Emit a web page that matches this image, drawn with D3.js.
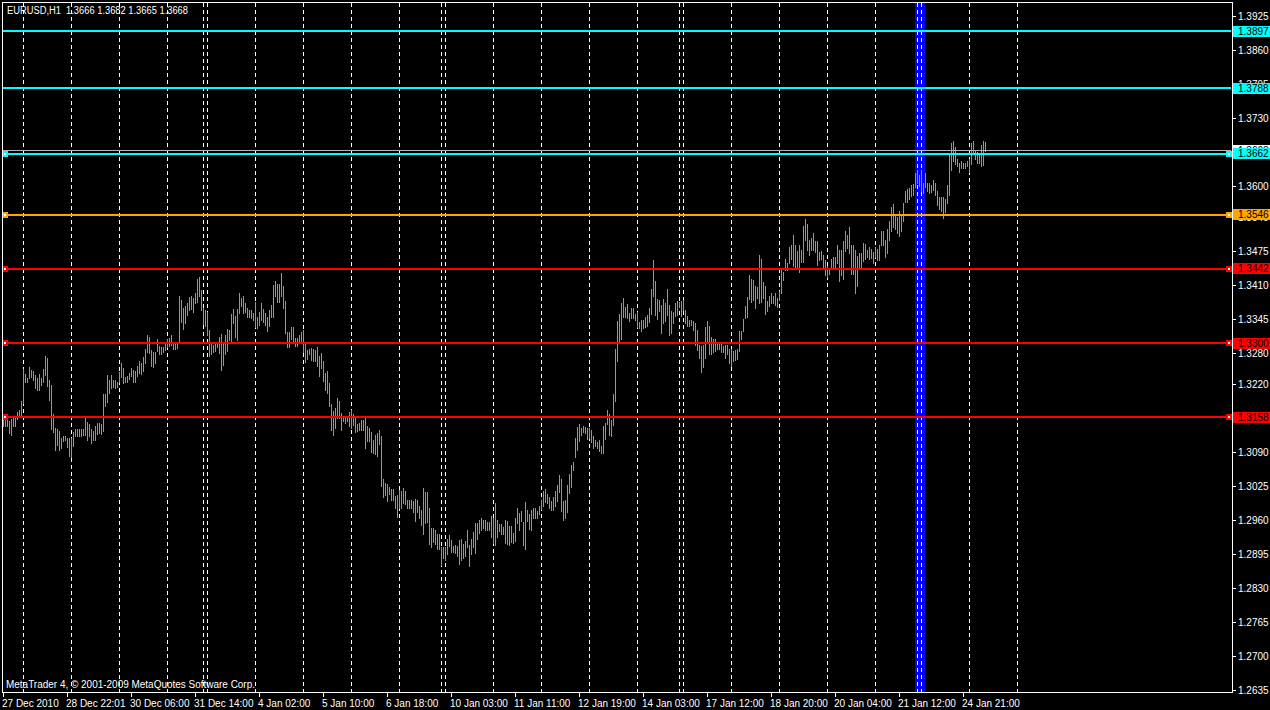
<!DOCTYPE html>
<html><head><meta charset="utf-8">
<script src="https://cdn.jsdelivr.net/npm/d3@7"></script>
<style>html,body{margin:0;padding:0;background:#000;overflow:hidden}svg{display:block}</style>
</head><body><svg id="c" width="1270" height="710"></svg>
<script>
// ---------------- DATA ----------------
const symbolTitle = "EURUSD,H1";
const lastOHLC = [1.3666, 1.3682, 1.3665, 1.3668];
const copyrightText = "MetaTrader 4, \u00a9 2001-2009 MetaQuotes Software Corp.";
// hourly bar highs / lows, price x 10000 (bar 0 = 27 Dec 2010 14:00)
const highPips = [
13153,13153,13152,13148,13153,13154,13154,13167,13170,13188,
13249,13239,13231,13253,13246,13244,13236,13231,13239,13232,
13249,13274,13270,13228,13217,13163,13136,13134,13130,13117,
13121,13121,13117,13116,13116,13128,13133,13133,13133,13133,
13133,13156,13147,13144,13133,13130,13140,13145,13145,13144,
13200,13200,13237,13227,13236,13228,13228,13224,13242,13259,
13250,13233,13235,13240,13250,13246,13245,13254,13264,13259,
13272,13287,13314,13310,13284,13281,13281,13305,13292,13291,
13290,13298,13306,13307,13314,13300,13298,13300,13388,13380,
13365,13369,13374,13387,13389,13384,13394,13421,13424,13399,
13365,13362,13358,13324,13297,13295,13296,13298,13310,13316,
13298,13314,13325,13324,13353,13364,13350,13364,13394,13385,
13389,13375,13365,13361,13361,13356,13376,13348,13357,13375,
13364,13356,13347,13362,13370,13410,13416,13412,13412,13432,
13407,13379,13320,13319,13329,13329,13307,13307,13313,13320,
13324,13297,13284,13287,13288,13286,13284,13290,13274,13279,
13263,13241,13244,13222,13181,13168,13173,13192,13187,13164,
13158,13157,13159,13166,13169,13163,13155,13144,13146,13150,
13150,13155,13139,13136,13127,13112,13123,13125,13131,13120,
13037,13030,13029,13023,13018,13018,13005,13007,13016,13015,
13021,13014,12998,12997,12998,12995,13000,12997,12987,12979,
13020,13013,13013,12983,12944,12944,12940,12932,12933,12908,
12907,12908,12924,12930,12922,12910,12912,12910,12921,12924,
12914,12919,12940,12912,12924,12937,12954,12953,12960,12964,
12960,12959,12956,12955,12967,12964,12992,12960,12951,12951,
12946,12960,12958,12947,12947,12935,12963,12982,12972,12977,
12955,12993,12979,12970,12978,12982,12983,12977,12987,12997,
13014,13018,13009,13004,12995,13004,13015,13027,13046,13037,
12996,12998,13027,13048,13065,13070,13116,13138,13144,13135,
13139,13138,13136,13136,13132,13121,13112,13109,13113,13102,
13140,13145,13169,13163,13150,13200,13287,13340,13353,13374,
13384,13368,13372,13356,13365,13365,13354,13357,13338,13343,
13342,13347,13352,13365,13402,13457,13417,13383,13380,13370,
13383,13374,13402,13370,13359,13357,13374,13378,13377,13379,
13380,13362,13350,13343,13343,13340,13336,13324,13295,13292,
13295,13328,13341,13331,13309,13306,13305,13296,13297,13297,
13292,13295,13295,13286,13286,13283,13285,13286,13322,13322,
13345,13369,13387,13429,13421,13419,13407,13406,13466,13458,
13415,13407,13378,13388,13394,13389,13394,13385,13398,13440,
13434,13458,13452,13481,13486,13505,13485,13475,13486,13476,
13523,13536,13525,13496,13500,13508,13493,13493,13473,13475,
13466,13457,13445,13440,13459,13463,13462,13486,13476,13477,
13493,13512,13505,13521,13486,13485,13476,13465,13471,13471,
13489,13488,13477,13482,13479,13472,13481,13479,13486,13512,
13512,13496,13516,13531,13559,13565,13546,13540,13550,13542,
13567,13590,13592,13595,13600,13602,13623,13629,13619,13629,
13605,13624,13605,13605,13600,13611,13604,13590,13577,13577,
13577,13573,13601,13659,13681,13684,13673,13651,13642,13646,
13643,13643,13647,13651,13681,13684,13666,13664,13659,13678,
13685,13682];
const lowPips = [
13139,13139,13139,13126,13123,13139,13139,13152,13159,13161,
13184,13223,13223,13231,13233,13227,13212,13209,13208,13217,
13224,13237,13216,13190,13133,13127,13093,13103,13094,13098,
13111,13112,13099,13082,13080,13101,13121,13121,13121,13120,
13122,13122,13112,13120,13106,13113,13113,13124,13125,13124,
13129,13177,13186,13202,13212,13214,13213,13214,13223,13233,
13222,13224,13224,13230,13235,13223,13223,13235,13241,13239,
13245,13260,13281,13279,13254,13253,13260,13282,13277,13278,
13281,13284,13291,13293,13295,13287,13287,13288,13301,13339,
13325,13337,13351,13362,13364,13358,13375,13376,13388,13362,
13335,13330,13313,13273,13277,13281,13282,13291,13279,13247,
13256,13278,13282,13304,13302,13337,13309,13304,13356,13369,
13356,13357,13348,13347,13346,13342,13328,13327,13333,13343,
13338,13333,13321,13330,13347,13347,13388,13376,13376,13388,
13365,13318,13290,13290,13305,13300,13292,13293,13298,13301,
13281,13261,13267,13277,13265,13263,13263,13255,13235,13251,
13226,13209,13203,13177,13131,13123,13136,13155,13155,13131,
13149,13145,13149,13139,13136,13141,13127,13130,13131,13132,
13132,13097,13111,13111,13089,13088,13085,13081,13104,13024,
13004,13007,12996,13009,12997,12998,12982,12965,12982,12982,
12992,12990,12983,12982,12983,12974,12958,12974,12964,12950,
12932,12954,12955,12913,12907,12918,12914,12903,12904,12873,
12886,12882,12894,12909,12898,12898,12896,12891,12875,12882,
12886,12890,12907,12871,12894,12907,12896,12923,12935,12941,
12944,12940,12940,12940,12926,12916,12912,12926,12938,12933,
12933,12916,12913,12912,12918,12916,12919,12953,12940,12958,
12912,12904,12958,12942,12941,12963,12964,12963,12970,12981,
12987,12993,12992,12983,12978,12979,12986,12996,13013,12977,
12959,12964,12975,13011,13023,13055,13080,13093,13111,13123,
13127,13125,13115,13117,13108,13098,13101,13097,13092,13088,
13088,13115,13143,13123,13121,13141,13187,13264,13302,13305,
13347,13347,13346,13340,13346,13346,13343,13328,13326,13321,
13326,13329,13331,13338,13353,13388,13352,13344,13360,13317,
13336,13340,13351,13313,13318,13337,13350,13352,13368,13350,
13362,13336,13331,13331,13332,13324,13294,13285,13269,13243,
13253,13269,13299,13278,13277,13281,13282,13286,13287,13281,
13281,13269,13277,13260,13255,13264,13266,13267,13283,13305,
13322,13346,13347,13383,13377,13380,13366,13385,13375,13377,
13385,13354,13360,13369,13375,13375,13371,13368,13380,13394,
13419,13438,13437,13452,13458,13445,13443,13444,13434,13454,
13454,13495,13477,13466,13477,13476,13473,13447,13457,13458,
13442,13429,13425,13430,13439,13442,13442,13451,13416,13429,
13420,13475,13480,13471,13430,13430,13394,13408,13443,13443,
13456,13459,13463,13459,13461,13452,13462,13457,13457,13486,
13486,13462,13471,13495,13512,13521,13516,13509,13503,13512,
13531,13568,13568,13573,13579,13582,13596,13604,13599,13590,
13585,13597,13590,13585,13588,13591,13581,13563,13554,13551,
13537,13549,13567,13581,13629,13646,13641,13637,13625,13633,
13633,13634,13637,13625,13641,13659,13650,13643,13643,13637,
13639,13665];
const timeLabels = ["27 Dec 2010","28 Dec 22:01","30 Dec 06:00","31 Dec 14:00","4 Jan 02:00",
  "5 Jan 10:00","6 Jan 18:00","10 Jan 03:00","11 Jan 11:00","12 Jan 19:00","14 Jan 03:00",
  "17 Jan 12:00","18 Jan 20:00","20 Jan 04:00","21 Jan 12:00","24 Jan 21:00"];
const timeLabelBars = [0,32,64,96,128,160,192,224,256,288,320,352,384,416,448,480];
const daySeparatorBars = [10,34,58,82,100,102,126,150,174,198,219,221,245,269,293,317,338,340,
  364,388,412,436,457,459,483,507];
const priceTickLabels = ["1.3925","1.3860","1.3795","1.3730","1.3665","1.3600","1.3540","1.3475",
  "1.3410","1.3345","1.3280","1.3220","1.3155","1.3090","1.3025","1.2960","1.2895","1.2830",
  "1.2765","1.2700","1.2635"];
const levelPrices = [1.3897, 1.3788, 1.3662, 1.3546, 1.3442, 1.3300, 1.3158];
const levelKinds  = ["cyan","cyan","cyan","orange","red","red","red"];
const levelSelected = [false, false, true, true, true, true, true];
const bidPrice = 1.3668;
const markerBar = 458;

// ---------------- STYLE ----------------
const COLORS = {cyan:"#00ffff", orange:"#ffa500", red:"#ff0000"};
const FONT = "'Liberation Sans', Arial, sans-serif";

const svg = d3.select("#c");
svg.append("rect").attr("width",1270).attr("height",710).attr("fill","#000");

const x = d3.scaleLinear().domain([0, 614]).range([3, 1231]);
const y = d3.scaleLinear().domain([1.2635, 1.3925]).range([690, 16]);
const bars = highPips.map((h,i)=>({i, h:h/10000, l:lowPips[i]/10000}));

// blue vertical marker
svg.append("rect").attr("x", Math.round(x(markerBar)) - 4).attr("y",3)
  .attr("width",10).attr("height",689).attr("fill","#0000ff");

// day separators (grid)
svg.append("g").selectAll("line").data(daySeparatorBars).join("line")
  .attr("x1",d=>x(d)+0.5).attr("x2",d=>x(d)+0.5).attr("y1",3).attr("y2",692)
  .attr("stroke","#fff").attr("stroke-width",1).attr("stroke-dasharray","4,3")
  .attr("shape-rendering","crispEdges");

// bars
svg.append("g").attr("shape-rendering","crispEdges").selectAll("rect").data(bars).join("rect")
  .attr("x",d=>x(d.i)).attr("width",1)
  .attr("y",d=>Math.floor(y(d.h)))
  .attr("height",d=>Math.max(1, Math.floor(y(d.l)) - Math.floor(y(d.h)) + 1))
  .attr("fill","#00ff00");

// bid line
svg.append("rect").attr("x",3).attr("width",1228).attr("y",Math.floor(y(bidPrice))).attr("height",1)
  .attr("fill","#b4b4b4");

// level lines
const levels = levelPrices.map((p,k)=>({p, c:COLORS[levelKinds[k]], sel:levelSelected[k]}));
const lg = svg.append("g").attr("shape-rendering","crispEdges");
lg.selectAll("rect.l").data(levels).join("rect").attr("class","l")
  .attr("x",3).attr("width",1228).attr("y",d=>Math.floor(y(d.p))).attr("height",2).attr("fill",d=>d.c);
const sel = levels.filter(d=>d.sel);
[2,1226].forEach(mx=>{
  lg.selectAll(null).data(sel).join("rect").attr("x",mx).attr("width",6)
    .attr("y",d=>Math.floor(y(d.p))-2).attr("height",6).attr("fill",d=>d.c);
  lg.selectAll(null).data(sel).join("rect").attr("x",mx+2).attr("width",2)
    .attr("y",d=>Math.floor(y(d.p))).attr("height",2).attr("fill","#fff");
});

// frame
svg.append("rect").attr("x",2.5).attr("y",2.5).attr("width",1230).attr("height",690)
  .attr("fill","none").attr("stroke","#fff").attr("shape-rendering","crispEdges");

// price axis
const tickVals = priceTickLabels.map(Number);
const pa = svg.append("g");
pa.selectAll("line").data(tickVals).join("line")
  .attr("x1",1233).attr("x2",1236).attr("y1",d=>Math.round(y(d))+0.5).attr("y2",d=>Math.round(y(d))+0.5)
  .attr("stroke","#fff").attr("shape-rendering","crispEdges");
pa.selectAll("text").data(priceTickLabels).join("text")
  .attr("x",1238).attr("y",d=>Math.round(y(+d))+4).text(d=>d)
  .attr("fill","#fff").attr("font-family",FONT).attr("font-size","10px");

// price labels of lines (bid first, underneath)
const boxes = [{p:bidPrice, c:"#ffffff"}].concat(levels.map(d=>({p:d.p, c:d.c})));
const bg = svg.append("g");
boxes.forEach(b=>{
  const yy = y(b.p);
  bg.append("rect").attr("x",1233).attr("y",Math.round(yy)-5).attr("width",37).attr("height",11)
    .attr("fill",b.c);
  bg.append("text").attr("x",1238).attr("y",Math.round(yy)+4).text(b.p.toFixed(4))
    .attr("fill","#000").attr("font-family",FONT).attr("font-size","10px");
});

// time axis
const ta = svg.append("g");
ta.selectAll("line").data(timeLabelBars).join("line")
  .attr("x1",d=>x(d)+0.5).attr("x2",d=>x(d)+0.5).attr("y1",693).attr("y2",697)
  .attr("stroke","#fff").attr("shape-rendering","crispEdges");
ta.selectAll("text").data(timeLabels).join("text")
  .attr("x",(d,k)=>x(timeLabelBars[k])-1).attr("y",707).text(d=>d)
  .attr("fill","#fff").attr("font-family",FONT).attr("font-size","10px");

// header & copyright
svg.append("text").attr("x",7).attr("y",14)
  .text(symbolTitle + "  " + lastOHLC.map(v=>v.toFixed(4)).join(" "))
  .attr("xml:space","preserve").style("white-space","pre")
  .attr("fill","#fff").attr("font-family",FONT).attr("font-size","10px")
  .attr("textLength",181).attr("lengthAdjust","spacingAndGlyphs");
svg.append("text").attr("x",6).attr("y",688).text(copyrightText)
  .attr("fill","#fff").attr("font-family",FONT).attr("font-size","10px")
  .attr("textLength",249).attr("lengthAdjust","spacingAndGlyphs");
</script></body></html>
